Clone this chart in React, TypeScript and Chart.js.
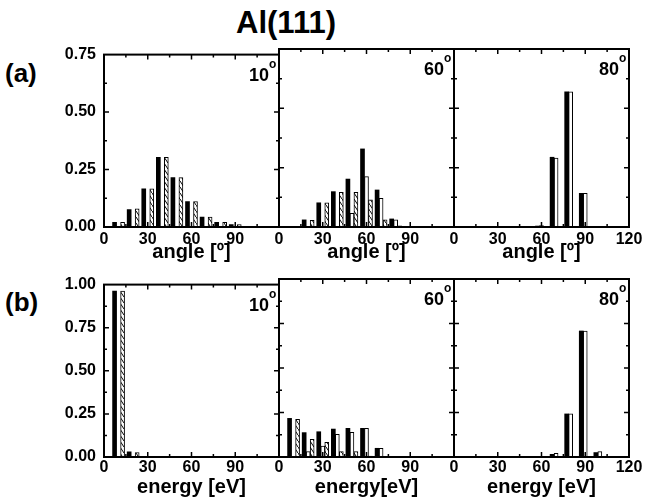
import React, { useEffect, useRef } from 'react';
import { Chart, registerables } from 'chart.js';

Chart.register(...registerables);

// ---------- data ----------
const bins = [10, 20, 30, 40, 50, 60, 70, 80, 90, 100];

// (a) angular distributions
const angle10Black = [0.020, 0.076, 0.166, 0.303, 0.215, 0.111, 0.043, 0.020, 0.011, 0];
const angle10White = [0, 0, 0, 0, 0, 0, 0, 0, 0, 0];
const angle10Hatched = [0.020, 0.079, 0.166, 0.303, 0.215, 0.111, 0.043, 0.020, 0.011, 0];

const angle60Black = [0, 0.030, 0.102, 0.149, 0.202, 0.329, 0.156, 0.034, 0, 0];
const angle60White = [0, 0, 0, 0, 0.058, 0.212, 0.121, 0.030, 0, 0];
const angle60Hatched = [0, 0.028, 0.102, 0.146, 0.146, 0.114, 0.030, 0.005, 0, 0];

const angle80Black = [0, 0, 0, 0, 0.002, 0.004, 0.294, 0.570, 0.142, 0];
const angle80White = [0, 0, 0, 0, 0.002, 0.006, 0.290, 0.570, 0.142, 0];
const angle80Hatched = [0, 0, 0, 0, 0, 0, 0, 0, 0, 0];

// (b) energy distributions
const energy10Black = [0.962, 0.030, 0, 0, 0, 0, 0, 0, 0, 0];
const energy10White = [0, 0, 0, 0, 0, 0, 0, 0, 0, 0];
const energy10Hatched = [0.962, 0.026, 0, 0, 0, 0, 0, 0, 0, 0];

const energy60Black = [0.217, 0.137, 0.142, 0.157, 0.161, 0.161, 0.049, 0, 0, 0];
const energy60White = [0, 0.030, 0.062, 0.127, 0.139, 0.161, 0.049, 0, 0, 0];
const energy60Hatched = [0.212, 0.099, 0.082, 0.030, 0.030, 0.005, 0, 0, 0, 0];

const energy80Black = [0, 0, 0, 0, 0, 0, 0.015, 0.242, 0.708, 0.025];
const energy80White = [0, 0, 0, 0, 0, 0, 0.020, 0.242, 0.708, 0.030];
const energy80Hatched = [0, 0, 0, 0, 0, 0, 0, 0, 0, 0];

const xMax = 120;
const xStep = 15;
const yStep = 0.125;

// ---------- styling ----------
const FONT = '"Liberation Sans", Arial, Helvetica, sans-serif';
const PANEL_W = 175;
const PANEL_H = 178;
const PAD_T = 12;
const PAD_R = 25;

function makeHatch(): CanvasPattern | string {
  const c = document.createElement('canvas');
  c.width = 4;
  c.height = 6;
  const g = c.getContext('2d');
  if (!g) return '#fff';
  g.fillStyle = '#fff';
  g.fillRect(0, 0, 4, 6);
  g.strokeStyle = '#000';
  g.lineWidth = 1;
  g.beginPath();
  g.moveTo(0, 0);
  g.lineTo(4, 6);
  g.stroke();
  return g.createPattern(c, 'repeat') || '#fff';
}

const framePlugin = {
  id: 'frame',
  afterDatasetsDraw(chart: any, _args: any, opts: any) {
    const { ctx, chartArea: a, scales } = chart;
    const xs = scales.x;
    const ys = scales.y;
    ctx.save();
    ctx.strokeStyle = '#000';
    ctx.lineWidth = 1.5;
    ctx.beginPath();
    for (const t of xs.ticks) {
      const v = t.value;
      if (v <= xs.min || v >= xs.max) continue;
      const px = xs.getPixelForValue(v);
      const len = Math.round(v) % 30 === 0 ? 5 : 3;
      ctx.moveTo(px, a.bottom);
      ctx.lineTo(px, a.bottom - len);
      ctx.moveTo(px, a.top);
      ctx.lineTo(px, a.top + len);
    }
    for (const t of ys.ticks) {
      const v = t.value;
      if (v <= ys.min + 1e-9 || v >= ys.max - 1e-9) continue;
      const py = ys.getPixelForValue(v);
      const len = Math.round(v * 1000) % 250 === 0 ? 5 : 3;
      ctx.moveTo(a.left, py);
      ctx.lineTo(a.left + len, py);
      ctx.moveTo(a.right, py);
      ctx.lineTo(a.right - len, py);
    }
    ctx.stroke();
    ctx.lineWidth = 2;
    ctx.strokeRect(a.left, a.top, a.right - a.left, a.bottom - a.top);

    if (opts && opts.label) {
      ctx.fillStyle = '#000';
      ctx.textBaseline = 'alphabetic';
      ctx.font = `bold 18px ${FONT}`;
      ctx.textAlign = 'right';
      ctx.fillText(opts.label, a.right - 10, a.top + 26);
      ctx.font = `bold 12px ${FONT}`;
      ctx.textAlign = 'left';
      ctx.fillText('o', a.right - 10, a.top + 13);
    }
    ctx.restore();
  },
};

type PanelProps = {
  left: number;
  top: number;
  yMax: number;
  showY: boolean;
  last: boolean;
  xTitle: string;
  label: string;
  black: number[];
  white: number[];
  hatched: number[];
  xHeight: number;
  tickPad: number;
  titlePad: number;
};

function Panel(p: PanelProps) {
  const ref = useRef<HTMLCanvasElement>(null);
  const canvasLeft = p.showY ? 0 : p.left - 25;
  const canvasTop = p.top - PAD_T;
  const canvasW = p.left + PANEL_W + PAD_R - canvasLeft;
  const canvasH = PAD_T + PANEL_H + p.xHeight;

  useEffect(() => {
    if (!ref.current) return;
    const nz = (v: number) => (v === 0 ? null : v);
    const tickFont = { family: FONT, size: 16, weight: 'bold' as const };
    const chart = new Chart(ref.current, {
      type: 'bar',
      data: {
        labels: bins,
        datasets: [
          { data: p.black.map(nz), backgroundColor: '#000', borderColor: '#000', borderWidth: 0 },
          { data: p.white.map(nz), backgroundColor: '#fff', borderColor: '#000', borderWidth: 1 },
          { data: p.hatched.map(nz), backgroundColor: makeHatch() as any, borderColor: '#000', borderWidth: 1 },
        ],
      } as any,
      options: {
        animation: false,
        responsive: false,
        maintainAspectRatio: false,
        devicePixelRatio: 1,
        layout: { padding: { top: PAD_T, right: PAD_R, left: 0, bottom: 0 } },
        datasets: { bar: { barThickness: 4 } },
        plugins: {
          legend: { display: false },
          tooltip: { enabled: false },
          frame: { label: p.label },
        } as any,
        scales: {
          x: {
            type: 'linear',
            min: 0,
            max: xMax,
            offset: false,
            grid: { display: false, drawTicks: false, offset: false },
            border: { display: false },
            ticks: {
              stepSize: xStep,
              autoSkip: false,
              maxRotation: 0,
              padding: p.tickPad,
              color: '#000',
              font: tickFont,
              callback: (v: any) => {
                const n = Number(v);
                if (n % 30 !== 0) return '';
                if (n === xMax && !p.last) return '';
                return String(n);
              },
            },
            title: {
              display: true,
              text: p.xTitle,
              color: '#000',
              font: { family: FONT, size: 20, weight: 'bold' },
              padding: { top: 0, bottom: p.titlePad },
            },
            afterFit: (s: any) => {
              s.height = p.xHeight;
            },
          },
          y: {
            min: 0,
            max: p.yMax,
            grid: { display: false, drawTicks: false },
            border: { display: false },
            ticks: {
              display: p.showY,
              stepSize: yStep,
              autoSkip: false,
              padding: 8,
              color: '#000',
              font: tickFont,
              callback: (v: any) => {
                const n = Number(v);
                return Math.round(n * 1000) % 250 === 0 ? n.toFixed(2) : '';
              },
            },
            afterFit: (s: any) => {
              s.width = p.left - canvasLeft;
            },
          },
        } as any,
      },
      plugins: [framePlugin],
    });
    return () => chart.destroy();
  }, []);

  return (
    <canvas
      ref={ref}
      width={canvasW}
      height={canvasH}
      style={{ position: 'absolute', left: canvasLeft, top: canvasTop, width: canvasW, height: canvasH }}
    />
  );
}

export default function App() {
  const lefts = [104, 279, 454];
  const topA = 49;
  const topB = 279;
  return (
    <div
      style={{
        position: 'absolute',
        left: 0,
        top: 0,
        width: 652,
        height: 501,
        background: '#fff',
        overflow: 'hidden',
        fontFamily: FONT,
        color: '#000',
      }}
    >
      <div style={{ position: 'absolute', left: 286, top: 22, transform: 'translate(-50%, -50%)', fontSize: 31, fontWeight: 'bold', lineHeight: 1, whiteSpace: 'nowrap' }}>
        Al(111)
      </div>
      <div style={{ position: 'absolute', left: 5, top: 73, transform: 'translateY(-50%)', fontSize: 26, fontWeight: 'bold', lineHeight: 1 }}>
        (a)
      </div>
      <div style={{ position: 'absolute', left: 5, top: 302, transform: 'translateY(-50%)', fontSize: 26, fontWeight: 'bold', lineHeight: 1 }}>
        (b)
      </div>

      <Panel left={lefts[0]} top={topA} yMax={0.75} showY={true} last={false} xTitle="angle [º]" label="10"
        black={angle10Black} white={angle10White} hatched={angle10Hatched} xHeight={40} tickPad={3} titlePad={3} />
      <Panel left={lefts[1]} top={topA} yMax={0.75} showY={false} last={false} xTitle="angle [º]" label="60"
        black={angle60Black} white={angle60White} hatched={angle60Hatched} xHeight={40} tickPad={3} titlePad={3} />
      <Panel left={lefts[2]} top={topA} yMax={0.75} showY={false} last={true} xTitle="angle [º]" label="80"
        black={angle80Black} white={angle80White} hatched={angle80Hatched} xHeight={40} tickPad={3} titlePad={3} />

      <Panel left={lefts[0]} top={topB} yMax={1.0} showY={true} last={false} xTitle="energy [eV]" label="10"
        black={energy10Black} white={energy10White} hatched={energy10Hatched} xHeight={43} tickPad={1} titlePad={1} />
      <Panel left={lefts[1]} top={topB} yMax={1.0} showY={false} last={false} xTitle="energy[eV]" label="60"
        black={energy60Black} white={energy60White} hatched={energy60Hatched} xHeight={43} tickPad={1} titlePad={1} />
      <Panel left={lefts[2]} top={topB} yMax={1.0} showY={false} last={true} xTitle="energy [eV]" label="80"
        black={energy80Black} white={energy80White} hatched={energy80Hatched} xHeight={43} tickPad={1} titlePad={1} />
    </div>
  );
}
